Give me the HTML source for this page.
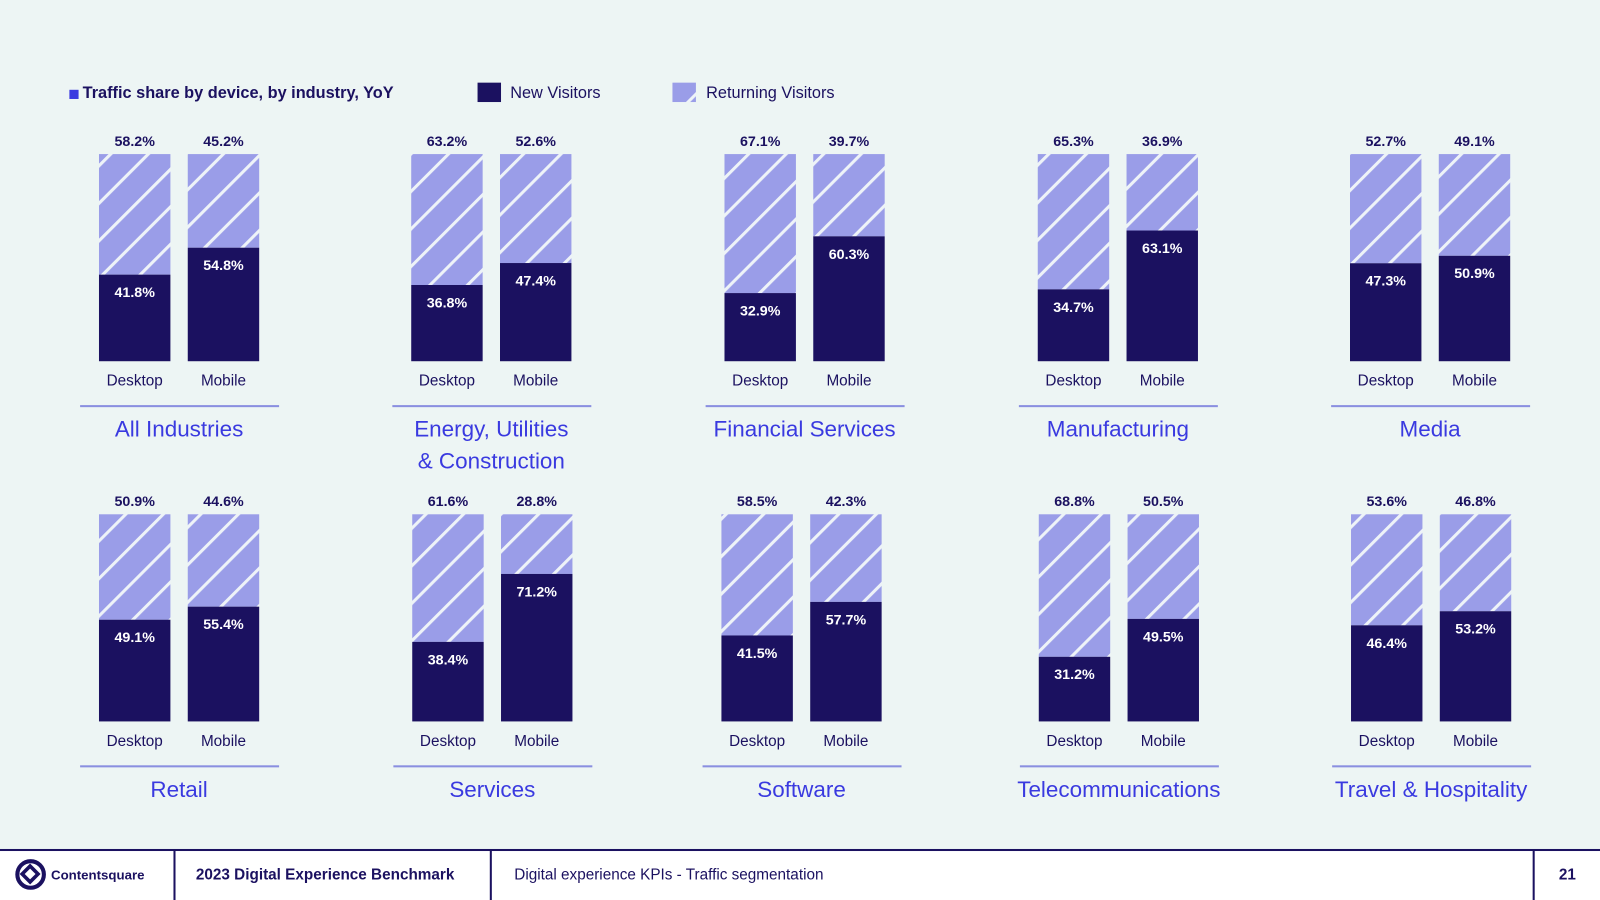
<!DOCTYPE html>
<html><head><meta charset="utf-8"><style>
html,body{margin:0;padding:0;width:1600px;height:900px;overflow:hidden;background:#eef5f4;font-family:"Liberation Sans","DejaVu Sans",sans-serif}
svg{display:block}
</style></head><body>
<svg id="chart" width="1600" height="900" viewBox="0 0 1568 882" preserveAspectRatio="none">
<defs>
<pattern id="hatch" patternUnits="userSpaceOnUse" width="26" height="26" patternTransform="rotate(45)">
<rect width="26" height="26" fill="#9a9de8"/>
<rect x="0" y="0" width="3" height="26" fill="#eef3f8"/>
</pattern>
</defs>
<rect width="1568" height="882" fill="#edf5f4"/>
<g>
<rect x="68" y="88" width="9" height="9" fill="#3a3ae0"/>
<text x="81" y="96" font-size="16" font-weight="bold" fill="#1b1160">Traffic share by device, by industry, YoY</text>
<rect x="468" y="81" width="23" height="19" fill="#1b1160"/>
<text x="500" y="96" font-size="16" fill="#1b1160">New Visitors</text>
<rect x="659" y="81" width="23" height="19" fill="url(#hatch)"/>
<text x="692" y="96" font-size="16" fill="#1b1160">Returning Visitors</text>
</g>
<g id="groups"></g>
<g>
<rect x="0" y="833" width="1568" height="49" fill="#ffffff"/>
<rect x="0" y="832" width="1568" height="2" fill="#1b1160"/>
<rect x="170" y="833" width="2" height="49" fill="#1b1160"/>
<rect x="480" y="833" width="2" height="49" fill="#1b1160"/>
<rect x="1502" y="833" width="2" height="49" fill="#1b1160"/>
<circle cx="30" cy="857" r="13" fill="none" stroke="#1b1160" stroke-width="4"/>
<rect x="24" y="851" width="11" height="11" fill="none" stroke="#1b1160" stroke-width="3.5" transform="rotate(45 29.5 856.5)"/>
<text x="50" y="862" font-size="13" font-weight="bold" fill="#1b1160">Contentsquare</text>
<text x="192" y="862" font-size="15" font-weight="bold" fill="#1b1160">2023 Digital Experience Benchmark</text>
<text x="504" y="862" font-size="15" fill="#1b1160">Digital experience KPIs - Traffic segmentation</text>
<text x="1536" y="862" font-size="15" font-weight="bold" fill="#1b1160" text-anchor="middle">21</text>
</g>
</svg>
<script>
const industries = ["All Industries","Energy, Utilities|& Construction","Financial Services","Manufacturing","Media","Retail","Services","Software","Telecommunications","Travel & Hospitality"];
const desktopNew = [41.8,36.8,32.9,34.7,47.3,49.1,38.4,41.5,31.2,46.4];
const desktopReturning = [58.2,63.2,67.1,65.3,52.7,50.9,61.6,58.5,68.8,53.6];
const mobileNew = [54.8,47.4,60.3,63.1,50.9,55.4,71.2,57.7,49.5,53.2];
const mobileReturning = [45.2,52.6,39.7,36.9,49.1,44.6,28.8,42.3,50.5,46.8];
const deviceLabels = ["Desktop","Mobile"];

const NS="http://www.w3.org/2000/svg";
const g=document.getElementById('groups');
const colXs=[[97,403,710,1017,1323],[97,404,707,1018,1324]];
const rowTop=[151,504], rowBot=[354,707];
const BW=70, GAP=87;
function el(tag,attrs,parent){const e=document.createElementNS(NS,tag);for(const k in attrs)e.setAttribute(k,attrs[k]);parent.appendChild(e);return e;}
function yScale(row,pct){return rowBot[row]-(rowBot[row]-rowTop[row])*pct/100;}
function txt(x,y,s,size,fill,weight,parent){const t=el('text',{x:x,y:y,'font-size':size,fill:fill,'font-weight':weight,'text-anchor':'middle'},parent);t.textContent=s;return t;}
industries.forEach((name,i)=>{
  const row=Math.floor(i/5), col=i%5;
  const x0=colXs[row][col];
  const grp=el('g',{},g);
  
  
  const news=[desktopNew[i],mobileNew[i]], rets=[desktopReturning[i],mobileReturning[i]];
  for(let d=0;d<2;d++){
    const x=x0+d*GAP;
    const top=yScale(row,news[d]+rets[d]);
    const mid=yScale(row,news[d]);
    const r=el('rect',{x:x,y:top,width:BW,height:mid-top,fill:'url(#hatch)'},grp);
    
    
    const n=el('rect',{x:x,y:mid,width:BW,height:rowBot[row]-mid,fill:'#1b1160'},grp);
    
    
    txt(x+BW/2,top-8,rets[d].toFixed(1)+'%',14,'#1b1160','bold',grp);
    txt(x+BW/2,mid+22,news[d].toFixed(1)+'%',14,'#ffffff','bold',grp);
    txt(x+BW/2,rowBot[row]+24,deviceLabels[d],15,'#1b1160','normal',grp);
  }
  const cx=x0+(GAP+BW)/2;
  const ly=rowBot[row]+43;
  const ln=el('rect',{x:cx-97,y:ly,width:195,height:2,fill:'#8a8fe0'},grp);
  
  
  name.split('|').forEach((part,k)=>{
    const t=txt(cx,ly+31+k*31,part,22,'#3a3ae0','normal',grp);
    
    
  });
});
</script>
</body></html>
